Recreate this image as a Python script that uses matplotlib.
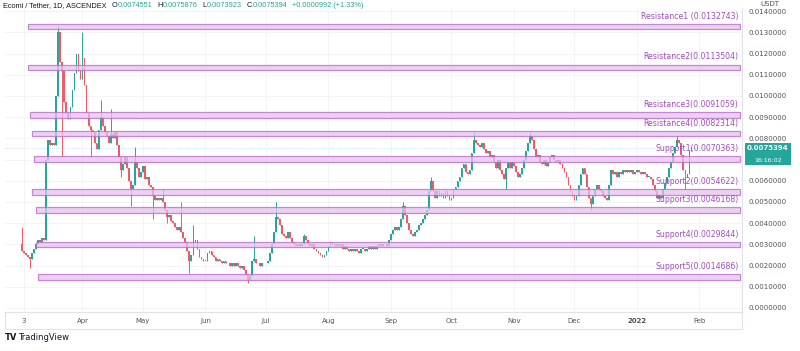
import matplotlib
matplotlib.use("Agg")
import matplotlib.pyplot as plt
import matplotlib.dates as mdates
import matplotlib.transforms as mtransforms
from matplotlib.patches import Rectangle
from matplotlib.lines import Line2D
import numpy as np
import pandas as pd

# daily closes, ECOMI/USDT, 2 Mar 2021 - 28 Jan 2022
mar = [0.0027, 0.0026, 0.0025, 0.0024, 0.0023, 0.0026, 0.0028, 0.0030, 0.0032, 0.0031,
       0.0033, 0.0032, 0.0070, 0.0079, 0.0077, 0.0078, 0.0077, 0.0100, 0.0130, 0.0116,
       0.0112, 0.0097, 0.0092, 0.0089, 0.0095, 0.0103, 0.0111, 0.0120, 0.0112, 0.0108]
apr = [0.0118, 0.0105, 0.0092, 0.0086, 0.0084, 0.0083, 0.0078, 0.0075, 0.0084, 0.0090,
       0.0086, 0.0083, 0.0081, 0.0078, 0.0082, 0.0080, 0.0083, 0.0077, 0.0071, 0.0065,
       0.0068, 0.0071, 0.0066, 0.0060, 0.0056, 0.0058, 0.0069, 0.0066, 0.0062, 0.0064]
may = [0.0067, 0.0061, 0.0062, 0.0058, 0.0057, 0.0053, 0.0051, 0.0052, 0.0051, 0.0052,
       0.0050, 0.0046, 0.0043, 0.0044, 0.0041, 0.0040, 0.0038, 0.0037, 0.0038, 0.0036,
       0.0033, 0.0031, 0.0027, 0.0022, 0.0025, 0.0031, 0.0032, 0.0028, 0.0024, 0.0023,
       0.0022]
jun = [0.0022, 0.0026, 0.0027, 0.0025, 0.0024, 0.0022, 0.0023, 0.0022, 0.0021, 0.0022,
       0.0021, 0.0021, 0.0020, 0.0021, 0.0020, 0.0021, 0.0020, 0.0019, 0.0020, 0.0018,
       0.0016, 0.0013, 0.0015, 0.0022, 0.0023, 0.0021, 0.0021, 0.0020, 0.0021, 0.0021]
jul = [0.0021, 0.0022, 0.0026, 0.0030, 0.0036, 0.0043, 0.0042, 0.0039, 0.0035, 0.0034,
       0.0033, 0.0036, 0.0033, 0.0031, 0.0030, 0.0029, 0.0030, 0.0029, 0.0030, 0.0034,
       0.0032, 0.0030, 0.0029, 0.0030, 0.0028, 0.0027, 0.0026, 0.0025, 0.0024, 0.0025,
       0.0027]
aug = [0.0029, 0.0031, 0.0030, 0.0029, 0.0030, 0.0029, 0.0030, 0.0028, 0.0029, 0.0028,
       0.0027, 0.0028, 0.0027, 0.0028, 0.0027, 0.0026, 0.0028, 0.0028, 0.0027, 0.0028,
       0.0029, 0.0028, 0.0029, 0.0028, 0.0029, 0.0030, 0.0029, 0.0030, 0.0030, 0.0029,
       0.0032]
sep = [0.0035, 0.0037, 0.0038, 0.0037, 0.0038, 0.0042, 0.0048, 0.0044, 0.0040, 0.0037,
       0.0035, 0.0034, 0.0036, 0.0037, 0.0039, 0.0040, 0.0042, 0.0044, 0.0046, 0.0055,
       0.0060, 0.0055, 0.0052, 0.0055, 0.0053, 0.0054, 0.0052, 0.0055, 0.0053, 0.0051]
octo = [0.0052, 0.0056, 0.0057, 0.0060, 0.0062, 0.0066, 0.0068, 0.0064, 0.0063, 0.0065,
        0.0073, 0.0079, 0.0078, 0.0077, 0.0076, 0.0078, 0.0075, 0.0073, 0.0074, 0.0071,
        0.0072, 0.0069, 0.0066, 0.0070, 0.0065, 0.0063, 0.0061, 0.0066, 0.0069, 0.0066,
        0.0069]
nov = [0.0067, 0.0064, 0.0062, 0.0063, 0.0066, 0.0070, 0.0074, 0.0078, 0.0081, 0.0079,
       0.0075, 0.0071, 0.0072, 0.0069, 0.0068, 0.0070, 0.0067, 0.0069, 0.0071, 0.0072,
       0.0070, 0.0069, 0.0070, 0.0068, 0.0066, 0.0064, 0.0062, 0.0058, 0.0055, 0.0053]
dec = [0.0051, 0.0053, 0.0058, 0.0063, 0.0066, 0.0063, 0.0057, 0.0052, 0.0049, 0.0053,
       0.0056, 0.0058, 0.0056, 0.0055, 0.0053, 0.0052, 0.0051, 0.0058, 0.0065, 0.0063,
       0.0064, 0.0062, 0.0064, 0.0063, 0.0065, 0.0064, 0.0065, 0.0064, 0.0065, 0.0063,
       0.0064]
jan = [0.0065, 0.0064, 0.0063, 0.0064, 0.0063, 0.0062, 0.0062, 0.0061, 0.0058, 0.0055,
       0.0052, 0.0053, 0.0052, 0.0056, 0.0059, 0.0062, 0.0066, 0.0069, 0.0073, 0.0076,
       0.0079, 0.0078, 0.0072, 0.0065, 0.0062, 0.0063, 0.0074551, 0.0075394]
first_open = 0.0030

# long wicks that stand out
wick_high = {"2021-03-02": 0.0038, "2021-03-20": 0.0133, "2021-04-01": 0.0130,
             "2021-04-10": 0.0098, "2021-04-15": 0.0094, "2021-04-27": 0.0076,
             "2021-05-11": 0.0056, "2021-05-20": 0.0050, "2021-05-26": 0.0039,
             "2021-06-25": 0.0034, "2021-07-06": 0.0050, "2021-07-20": 0.0035,
             "2021-09-07": 0.0050, "2021-09-21": 0.0062, "2021-10-12": 0.0083,
             "2021-11-09": 0.0083, "2022-01-21": 0.0081, "2022-01-28": 0.0075876}
wick_low = {"2021-03-06": 0.0019, "2021-03-22": 0.0071, "2021-04-05": 0.0071,
            "2021-04-20": 0.0062, "2021-04-25": 0.0048, "2021-05-06": 0.0042,
            "2021-05-13": 0.0040, "2021-05-24": 0.00165, "2021-06-22": 0.0012,
            "2021-10-28": 0.0056, "2021-12-09": 0.0046, "2022-01-25": 0.0056,
            "2022-01-28": 0.0073923}

level_names = ["Resistance1 (0.0132743)", "Resistance2(0.0113504)", "Resistance3(0.0091059)",
               "Resistance4(0.0082314)", "Support1(0.0070363)", "Support2(0.0054622)",
               "Support3(0.0046168)", "Support4(0.0029844)", "Support5(0.0014686)"]
level_values = [0.0132743, 0.0113504, 0.0091059, 0.0082314, 0.0070363,
                0.0054622, 0.0046168, 0.0029844, 0.0014686]
level_from = ["2021-03-05", "2021-03-05", "2021-03-06", "2021-03-07", "2021-03-08",
              "2021-03-07", "2021-03-09", "2021-03-09", "2021-03-10"]

month_ticks = ["2021-03-03", "2021-04-01", "2021-05-01", "2021-06-01", "2021-07-01",
               "2021-08-01", "2021-09-01", "2021-10-01", "2021-11-01", "2021-12-01",
               "2022-01-01", "2022-02-01"]
month_labels = ["3", "Apr", "May", "Jun", "Jul", "Aug", "Sep", "Oct", "Nov", "Dec", "2022", "Feb"]

header_name = "Ecomi / Tether, 1D, ASCENDEX"
ohlc_keys = ["O", "H", "L", "C"]
ohlc_vals = ["0.0074551", "0.0075876", "0.0073923", "0.0075394"]
change_txt = "+0.0000992 (+1.33%)"

closes = np.array(mar + apr + may + jun + jul + aug + sep + octo + nov + dec + jan)
dates = pd.date_range("2021-03-02", periods=len(closes), freq="D")
opens = np.r_[first_open, closes[:-1]]
highs = np.maximum(opens, closes)
lows = np.minimum(opens, closes)
for d, v in wick_high.items():
    i = dates.get_loc(pd.Timestamp(d))
    highs[i] = max(highs[i], v)
for d, v in wick_low.items():
    i = dates.get_loc(pd.Timestamp(d))
    lows[i] = min(lows[i], v)

UP = "#26a69a"
DOWN = "#f05a64"
TXT = "#50535e"
LVL_EDGE = "#b864c8"
LVL_FACE = "#e6c3ee"

fig = plt.figure(figsize=(8, 3.51), dpi=100)
ax = fig.add_axes([5 / 800, 39 / 351, 737 / 800, 304 / 351])

x = mdates.date2num(dates)
cols = np.where(closes >= opens, UP, DOWN)
ax.vlines(x, lows, highs, colors=cols, lw=0.7, zorder=2)
body = np.maximum(np.abs(closes - opens), 0.00004)
ax.bar(x, body, bottom=np.minimum(opens, closes), width=0.85, color=cols, zorder=2)

x_end = mdates.date2num(pd.Timestamp("2022-02-21"))
for name, v, start in zip(level_names, level_values, level_from):
    x0 = mdates.date2num(pd.Timestamp(start))
    h = 0.00026
    ax.add_patch(Rectangle((x0, v - h / 2), x_end - x0, h, facecolor=LVL_FACE,
                           edgecolor=LVL_EDGE, lw=0.9, alpha=0.75, zorder=3))
    ax.annotate(name, (x_end, v), xytext=(-1, 7.5), textcoords="offset points",
                ha="right", va="center", fontsize=5.6, color="#a04fb8", zorder=4)

ax.set_xlim(mdates.date2num(pd.Timestamp("2021-02-21 14:00")),
            mdates.date2num(pd.Timestamp("2022-02-22 02:00")))
ax.set_ylim(-0.00019, 0.01415)

ax.set_xticks(mdates.date2num(pd.to_datetime(month_ticks)))
ax.set_xticklabels(month_labels)
for lab in ax.get_xticklabels():
    if lab.get_text() == "2022":
        lab.set_fontweight("bold")
        lab.set_color("#2a2e39")
yt = np.arange(0, 0.01401, 0.001)
ax.set_yticks(yt)
# the 0.007 label sits behind the last-price tag
ax.set_yticklabels(["" if abs(t - 0.007) < 1e-9 else f"{t:.7f}" for t in yt])
ax.yaxis.tick_right()
ax.tick_params(axis="both", length=0, labelsize=5, labelcolor=TXT)
ax.tick_params(axis="y", pad=5)
ax.tick_params(axis="x", pad=4)
ax.grid(color="#f0f2f7", lw=0.6, zorder=0)

for s in ["top", "left"]:
    ax.spines[s].set_visible(False)
ax.spines["right"].set_color("#e0e3eb")
ax.spines["bottom"].set_color("#e0e3eb")
ax.spines["right"].set_linewidth(0.8)
ax.spines["bottom"].set_linewidth(0.8)

# time axis frame
fig.add_artist(Line2D([5 / 800, 742 / 800], [1 - 329 / 351] * 2, color="#e0e3eb", lw=0.8))
fig.add_artist(Line2D([5 / 800] * 2, [1 - 312 / 351, 1 - 329 / 351], color="#e0e3eb", lw=0.8))
fig.add_artist(Line2D([742 / 800] * 2, [1 - 312 / 351, 1 - 329 / 351], color="#e0e3eb", lw=0.8))

# last price tag
last = closes[-1]
trans = mtransforms.blended_transform_factory(ax.transAxes, ax.transData)
ax.add_patch(Rectangle((1.004, 0.00674), 0.062, 0.00104, transform=trans,
                       facecolor=UP, edgecolor="none", clip_on=False, zorder=5))
ax.text(1.035, last, f"{last:.7f}", transform=trans, ha="center", va="center",
        fontsize=5, fontweight="bold", color="white", zorder=6)
ax.text(1.035, 0.00697, "16:16:02", transform=trans, ha="center", va="center",
        fontsize=4.5, color="white", zorder=6)
ax.axhline(last, color=UP, lw=0.4, ls=(0, (1, 2.5)), alpha=0.7, zorder=1)

fig.text(770 / 800, 1 - 4 / 351, "USDT", fontsize=5, color=TXT, ha="center", va="center",
         bbox=dict(facecolor="white", edgecolor="none", pad=1.5))

# header line, pieces chained left to right on a common bottom edge
hdr_font = dict(fontsize=5.3, family="Liberation Sans", va="bottom")
prev = fig.text(3 / 800, 1 - 9 / 351, header_name, color="#131722", **hdr_font)
for k, v in zip(ohlc_keys, ohlc_vals):
    prev = ax.annotate(k, xy=(1, 0), xycoords=prev, xytext=(3.5, 0), textcoords="offset points",
                       color="#131722", annotation_clip=False, **hdr_font)
    prev = ax.annotate(v, xy=(1, 0), xycoords=prev, xytext=(0.3, 0), textcoords="offset points",
                       color=UP, annotation_clip=False, **hdr_font)
ax.annotate(change_txt, xy=(1, 0), xycoords=prev, xytext=(3.5, 0), textcoords="offset points",
            color=UP, annotation_clip=False, **hdr_font)

# footer
fig.text(5 / 800, 1 - 338 / 351, "TV", fontsize=6, fontweight="bold", color="#131722", va="center")
fig.text(18 / 800, 1 - 338 / 351, "TradingView", fontsize=6, color="#131722", va="center")

fig.savefig("out.png", dpi=100, facecolor="white")
